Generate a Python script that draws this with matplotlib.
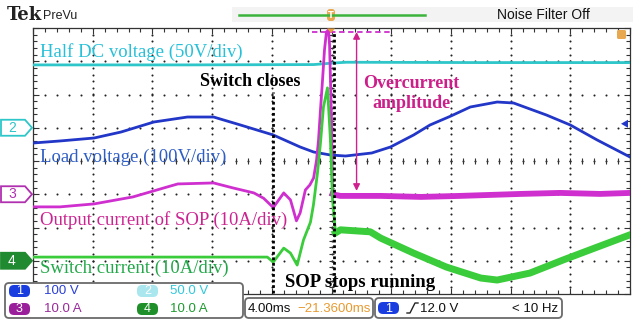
import numpy as np
import matplotlib
matplotlib.use("Agg")
import matplotlib.pyplot as plt
from matplotlib.patches import FancyBboxPatch, Polygon, Rectangle
from matplotlib.ticker import MultipleLocator

# ---------------- data (time in ms relative to trigger) ----------------
cyan_t = [-20.0, -10.0, -1.2, 0.2, 1.0, 10.0, 20.0]
cyan_v = [94.5, 94.5, 95.0, 97.5, 98.5, 98.0, 98.0]          # V  (ch2)

blue_t = [-20.0, -18.2, -15.9, -14.1, -11.9, -9.65, -7.9, -6.1, -3.9, -2.1, -1.2,
          -0.07, 0.94, 2.7, 3.95, 5.5, 6.6, 8.0, 9.3, 11.1, 12.2, 14.4, 16.0, 17.8, 20.0]
blue_v = [-45.9, -39.8, -30.8, -12.8, 17.3, 32.3, 32.3, 8.3, -21.8, -57.9, -72.9,
          -82.0, -85.0, -75.9, -57.9, -21.8, 8.3, 35.3, 62.4, 77.4, 74.4, 38.3, 8.3, -36.8, -88.0]  # V (ch1)

mag_t = [-20.0, -18.2, -15.9, -13.3, -11.0, -10.3, -7.9, -6.6, -5.2, -4.55, -3.9, -3.2,
         -2.75, -2.35, -2.1, -1.75, -1.45, -1.2, -1.0, -0.87, -0.74, -0.6, -0.47, -0.34,
         -0.2, -0.13, 0.0, 0.07, 0.27, 0.6, 3.3, 6.0, 8.6, 12.7, 15.3, 18.0, 20.0]
mag_a = [-3.8, -3.8, -2.9, -0.8, 2.2, 3.1, 3.4, 1.9, 0.4, -1.2, -4.0, 0.4,
         -1.7, -8.0, -5.6, 1.3, 2.8, 4.9, 10.3, 16.3, 25.3, 34.4, 43.4, 48.8,
         49.4, 44.9, 22.3, 0.1, -0.2, -0.5, -0.5, -0.8, -0.5, 0.1, 0.4, 0.1, 0.4]   # A (ch3)

grn_t = [-20.0, -12.0, -6.0, -4.3, -3.9, -3.2, -2.75, -2.3, -1.88, -1.41, -1.21, -0.94,
         -0.74, -0.54, -0.27, -0.07, 0.07, 0.27, 0.6, 2.6, 3.3, 5.5, 7.7, 10.0, 11.1,
         13.3, 15.5, 17.8, 20.0]
grn_a = [1.1, 1.1, 1.1, 1.1, -0.4, 3.8, 2.3, -1.3, 6.2, 11.6, 16.8, 26.4,
         35.4, 46.2, 52.0, 36.3, 18.3, 8.4, 9.3, 8.7, 6.8, 2.3, -1.9, -5.2, -5.8,
         -3.7, 0.2, 4.1, 7.8]   # A (ch4)

# channel settings: (volts-or-amps per div, ground position in div)
ch1 = (100.0, 1.0)
ch2 = (50.0, 1.0)
ch3 = (10.0, -1.0)
ch4 = (10.0, -3.0)

def to_div(vals, ch):
    return np.asarray(vals) / ch[0] + ch[1]

# ---------------- colours ----------------
C_CYAN = "#2ec6c8"
C_BLUE = "#2236c8"
C_MAG = "#cf2fcf"
C_GRN = "#3acc3a"
T_CYAN = "#26c0d8"
T_BLUE = "#2f5ec4"
T_MAG = "#cc2592"
T_GRN = "#22a848"
SERIF = ["Liberation Serif", "DejaVu Serif"]
NARROW = ["Liberation Sans Narrow", "Liberation Sans", "DejaVu Sans"]

W, H = 633, 320
fig = plt.figure(figsize=(W / 100, H / 100), dpi=100)
fig.patch.set_facecolor("white")

# graticule area (pixels): x 33..630, y 28..294
gx0, gx1, gy0, gy1 = 33, 630, 28, 294
ax = fig.add_axes([gx0 / W, 1 - gy1 / H, (gx1 - gx0) / W, (gy1 - gy0) / H])
ax.set_xlim(-20, 20)
ax.set_ylim(-4, 4)
ax.set_facecolor("white")
for s in ax.spines.values():
    s.set_color("#333333")
    s.set_linewidth(0.9)
ax.xaxis.set_major_locator(MultipleLocator(4))
ax.xaxis.set_minor_locator(MultipleLocator(0.8))
ax.yaxis.set_major_locator(MultipleLocator(1))
ax.yaxis.set_minor_locator(MultipleLocator(0.2))
ax.tick_params(which="both", direction="in", top=True, right=True,
               labelbottom=False, labelleft=False, color="#333333", width=0.8)
ax.tick_params(which="major", length=4)
ax.tick_params(which="minor", length=3)

# dotted graticule
xs_major = np.arange(-16, 16.1, 4)
ys_major = np.arange(-3, 3.1, 1)
ys_fine = np.arange(-4, 4.01, 0.2)
xs_fine = np.arange(-20, 20.01, 0.8)
gxv, gyv = np.meshgrid(xs_major, ys_fine)
ax.scatter(gxv.ravel(), gyv.ravel(), s=2.2, c="#222222", linewidths=0, zorder=1)
gxh, gyh = np.meshgrid(xs_fine, ys_major)
ax.scatter(gxh.ravel(), gyh.ravel(), s=2.2, c="#222222", linewidths=0, zorder=1)
# centre cross-hair ticks
ax.hlines(ys_fine, -0.18, 0.18, color="#333333", lw=0.8, zorder=1)
ax.vlines(xs_fine, -0.08, 0.08, color="#333333", lw=0.8, zorder=1)

# ---------------- traces ----------------
ax.plot(cyan_t, to_div(cyan_v, ch2), color=C_CYAN, lw=2.0, zorder=3)
ax.plot(blue_t, to_div(blue_v, ch1), color=C_BLUE, lw=2.0, zorder=3)

mt = np.asarray(mag_t); md = to_div(mag_a, ch3)
ax.plot(mt, md, color=C_MAG, lw=2.0, zorder=4)
m = mt >= 0.07
ax.plot(mt[m], md[m], color=C_MAG, lw=4.2, zorder=4, solid_joinstyle="round")

gt = np.asarray(grn_t); gd = to_div(grn_a, ch4)
ax.plot(gt, gd, color=C_GRN, lw=2.0, zorder=4)
g = gt >= 0.27
ax.plot(gt[g], gd[g], color=C_GRN, lw=5.0, zorder=4, solid_joinstyle="round")

# ---------------- annotations ----------------
ax.vlines(-3.9, -3.97, 2.08, colors="black", lw=2.0, linestyles=(0, (1, 1)), zorder=5)
ax.vlines(0.2, -3.95, 3.88, colors="black", lw=2.0, linestyles=(0, (1, 1)), zorder=5)
ax.hlines(3.88, -1.3, 4.0, colors=C_MAG, lw=1.3, linestyles=(0, (3, 2)), zorder=5)
ax.annotate("", xy=(1.68, -0.9), xytext=(1.68, 3.88),
            arrowprops=dict(arrowstyle="<|-|>", color="#d0208e", lw=1.0,
                            mutation_scale=10, shrinkA=0, shrinkB=0), zorder=6)

ax.text(-19.5, 3.28, "Half DC voltage (50V/div)", color=T_CYAN, fontsize=13.5,
        family=SERIF, ha="left", va="center", zorder=6)
ax.text(-19.5, 0.12, "Load voltage (100V/div)", color=T_BLUE, fontsize=13.5,
        family=SERIF, ha="left", va="center", zorder=6)
ax.text(-19.5, -1.77, "Output current of SOP (10A/div)", color=T_MAG, fontsize=13.5,
        family=SERIF, ha="left", va="center", zorder=6)
ax.text(-19.5, -3.22, "Switch current (10A/div)", color=T_GRN, fontsize=13.5,
        family=SERIF, ha="left", va="center", zorder=6)
ax.text(-5.43, 2.38, "Switch closes", color="black", fontsize=13, weight="bold",
        family=SERIF, ha="center", va="center", zorder=6)
ax.text(5.36, 2.03, "Overcurrent\namplitude", color="#cc1f8a", fontsize=13,
        weight="bold", family=SERIF, ha="center", va="center", linespacing=1.3, zorder=6)
ax.text(1.9, -3.64, "SOP stops running", color="black", fontsize=13.5, weight="bold",
        family=SERIF, ha="center", va="center", zorder=6)

# ---------------- scope chrome (pixel overlay) ----------------
ov = fig.add_axes([0, 0, 1, 1], zorder=10)
ov.set_xlim(0, W)
ov.set_ylim(H, 0)
ov.axis("off")
ov.patch.set_alpha(0)

def gy(div):
    return gy0 + (4 - div) * (gy1 - gy0) / 8.0

# header
ov.add_patch(Rectangle((232, 7), W - 232, 15, facecolor="#f3f3f3", edgecolor="none"))
ov.text(7, 15, "Tek", fontsize=13, weight="bold", family=["DejaVu Serif"],
        ha="left", va="center", color="#222222")
ov.text(43, 16, "PreVu", fontsize=9, family=NARROW, ha="left", va="center", color="#222222")
ov.plot([239, 425], [15, 15], color="#3cb43c", lw=1.8)
ov.add_patch(FancyBboxPatch((327, 9), 8, 12, boxstyle="round,pad=0,rounding_size=3",
                            facecolor="#e8a850", edgecolor="none"))
ov.text(331, 15.5, "T", fontsize=6, color="white", ha="center", va="center", weight="bold")
ov.add_patch(Polygon([[327, 28.5], [335, 28.5], [331, 33]], closed=True,
                     facecolor="#e8a040", edgecolor="none"))
ov.text(543, 15, "Noise Filter Off", fontsize=10, family=NARROW, ha="center",
        va="center", color="#111111")
# top-right trigger-position box
ov.add_patch(FancyBboxPatch((617, 30), 9, 9, boxstyle="round,pad=0,rounding_size=1.5",
                            facecolor="#e8a850", edgecolor="none"))
# trigger level arrow (ch1, 12 V)
ty = gy(ch1[1] + 12.0 / ch1[0])
ov.add_patch(Polygon([[621, ty], [628, ty - 4], [628, ty + 4]], closed=True,
                     facecolor=C_BLUE, edgecolor="none"))

# channel ground markers
def marker(y, label, edge, face, tcolor):
    pts = [[1, y - 8], [25, y - 8], [32, y], [25, y + 8], [1, y + 8]]
    ov.add_patch(Polygon(pts, closed=True, facecolor=face, edgecolor=edge, lw=1.3))
    ov.text(12, y, label, fontsize=10, color=tcolor, ha="center", va="center", family=NARROW)

marker(gy(ch2[1]), "2", C_CYAN, "white", C_CYAN)
marker(gy(ch3[1]), "3", "#b030b0", "white", "#b030b0")
marker(gy(ch4[1]), "4", "#1f8a2f", "#1f8a2f", "white")

# bottom info boxes
def box(x0, y0, x1, y1):
    ov.add_patch(FancyBboxPatch((x0, y0), x1 - x0, y1 - y0,
                                boxstyle="round,pad=0,rounding_size=4",
                                facecolor="white", edgecolor="#6a6a6a", lw=1.3))

def pill(x0, yc, color, label, tcolor="white"):
    ov.add_patch(FancyBboxPatch((x0, yc - 6), 21, 12, boxstyle="round,pad=0,rounding_size=5",
                                facecolor=color, edgecolor="none"))
    ov.text(x0 + 10.5, yc + 0.5, label, fontsize=9, color=tcolor, ha="center", va="center",
            family=NARROW)

box(5, 283, 243, 318)
pill(9, 291, "#1a3de0", "1")
ov.text(44, 291, "100 V", fontsize=9.5, color="#2a3fd8", family=NARROW, ha="left", va="center")
pill(137, 291, "#a9e6ee", "2")
ov.text(170, 291, "50.0 V", fontsize=9.5, color="#30c8dc", family=NARROW, ha="left", va="center")
pill(9, 309, "#9a1f9a", "3")
ov.text(44, 309, "10.0 A", fontsize=9.5, color="#9a2a9a", family=NARROW, ha="left", va="center")
pill(137, 309, "#1f8f2a", "4")
ov.text(170, 309, "10.0 A", fontsize=9.5, color="#1f9a2f", family=NARROW, ha="left", va="center")

box(245, 298, 373, 318)
ov.text(248, 308.5, "4.00ms", fontsize=9.5, color="#111111", family=NARROW, ha="left", va="center")
ov.text(371, 308.5, "\u221221.3600ms", fontsize=9.5, color="#e89a30", family=NARROW,
        ha="right", va="center")

box(375, 298, 562, 318)
pill(378, 308, "#1a3de0", "1")
ov.plot([407, 410, 415, 418], [313, 313, 303, 303], color="#222222", lw=1.0)
ov.text(420, 308.5, "12.0 V", fontsize=9.5, color="#111111", family=NARROW, ha="left", va="center")
ov.text(558, 308.5, "< 10 Hz", fontsize=9.5, color="#111111", family=NARROW, ha="right", va="center")

fig.savefig("out.png", dpi=100, facecolor="white")
